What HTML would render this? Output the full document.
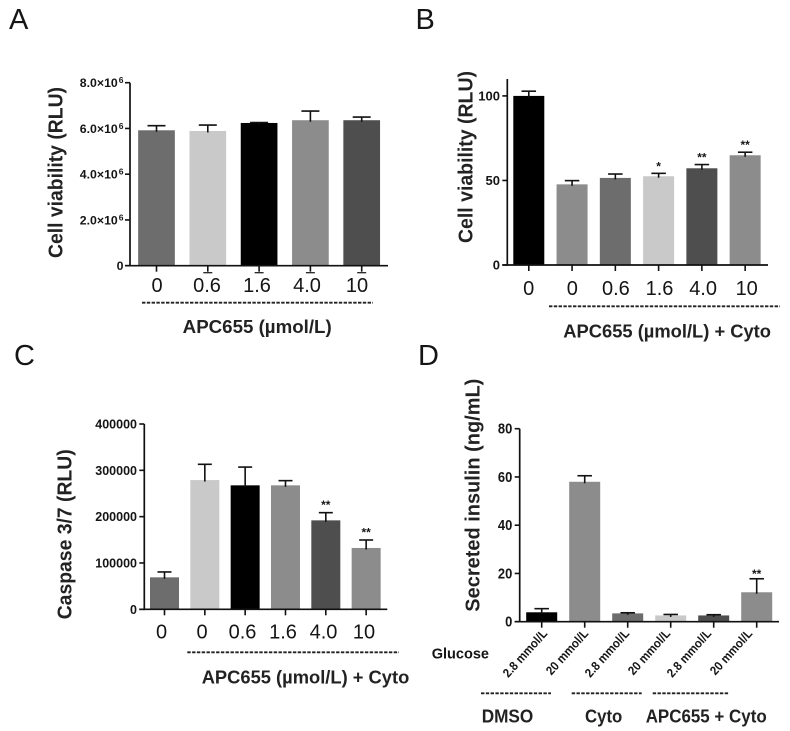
<!DOCTYPE html>
<html>
<head>
<meta charset="utf-8">
<title>APC655 cell viability, caspase and insulin charts</title>
<style>
html,body{margin:0;padding:0;background:#fff;}
#figure{display:block;width:790px;height:731px;filter:blur(0.35px);}
text{font-family:"Liberation Sans",sans-serif;fill:#151515;}
.letter{font-size:29px;}
.ytitle{font-size:20.5px;font-weight:bold;fill:#222;}
.xtitle{font-size:18.5px;font-weight:bold;fill:#222;}
.dash{stroke:#222;stroke-width:1.8;stroke-dasharray:3.4 1.4;fill:none;}
</style>
</head>
<body>
<svg id="figure" xmlns="http://www.w3.org/2000/svg" width="790" height="731" viewBox="0 0 790 731">
  <rect width="790" height="731" fill="#fff"/>

  <g id="panel-a">
    <text class="letter" x="9" y="29">A</text>
    <text class="ytitle" transform="translate(62.3,258) rotate(-90)" textLength="171" lengthAdjust="spacingAndGlyphs">Cell viability (RLU)</text>
    <line class="dash" x1="142" y1="302.7" x2="373" y2="302.7"/>
    <text class="xtitle" x="182.7" y="333" textLength="149" lengthAdjust="spacingAndGlyphs">APC655 (µmol/L)</text>
  </g>

  <g id="panel-b">
    <text class="letter" x="415.5" y="29">B</text>
    <text class="ytitle" transform="translate(472.3,243) rotate(-90)" textLength="172" lengthAdjust="spacingAndGlyphs">Cell viability (RLU)</text>
    <line class="dash" x1="549" y1="306.3" x2="780" y2="306.3"/>
    <text class="xtitle" x="563.3" y="337.3" textLength="207.7" lengthAdjust="spacingAndGlyphs">APC655 (µmol/L) + Cyto</text>
  </g>

  <g id="panel-c">
    <text class="letter" x="14" y="365">C</text>
    <text class="ytitle" transform="translate(71.7,619.3) rotate(-90)" textLength="170" lengthAdjust="spacingAndGlyphs">Caspase 3/7 (RLU)</text>
    <line class="dash" x1="187.3" y1="652.3" x2="399" y2="652.3"/>
    <text class="xtitle" x="201.7" y="683.3" textLength="207.6" lengthAdjust="spacingAndGlyphs">APC655 (µmol/L) + Cyto</text>
  </g>

  <g id="panel-d">
    <text class="letter" x="418" y="365">D</text>
    <text class="ytitle" transform="translate(479.3,611.7) rotate(-90)" textLength="233" lengthAdjust="spacingAndGlyphs">Secreted insulin (ng/mL)</text>
    <text x="431.7" y="658.3" font-size="15" font-weight="bold" textLength="57.3" lengthAdjust="spacingAndGlyphs">Glucose</text>
    <line class="dash" x1="481" y1="693.3" x2="551" y2="693.3"/>
    <line class="dash" x1="571.7" y1="693.3" x2="641.7" y2="693.3"/>
    <line class="dash" x1="652.7" y1="693.3" x2="729.3" y2="693.3"/>
    <text class="xtitle" x="481.7" y="722.7" textLength="51.6" lengthAdjust="spacingAndGlyphs">DMSO</text>
    <text class="xtitle" x="585" y="722.7" textLength="37.3" lengthAdjust="spacingAndGlyphs">Cyto</text>
    <text class="xtitle" x="645.7" y="722.7" textLength="121" lengthAdjust="spacingAndGlyphs">APC655 + Cyto</text>
  </g>
</svg>

<script>
/* Panel A data */
var panelACategories = ["0", "0.6", "1.6", "4.0", "10"];
var panelAValues = [5920000, 5890000, 6240000, 6360000, 6360000];
var panelAErrorTops = [6120000, 6150000, 6260000, 6760000, 6500000];
var panelAStars = ["", "", "", "", ""];
var panelATicks = [0, 2000000, 4000000, 6000000, 8000000];
var panelATickLabels = ["0", "2.0×10", "4.0×10", "6.0×10", "8.0×10"];

/* Panel B data */
var panelBCategories = ["0", "0", "0.6", "1.6", "4.0", "10"];
var panelBValues = [100, 47.7, 51.5, 52.5, 57.2, 64.9];
var panelBErrorTops = [102.8, 49.9, 53.8, 54.2, 59.4, 66.7];
var panelBStars = ["", "", "", "*", "**", "**"];
var panelBTicks = [0, 50, 100];
var panelBTickLabels = ["0", "50", "100"];

/* Panel C data */
var panelCCategories = ["0", "0", "0.6", "1.6", "4.0", "10"];
var panelCValues = [69000, 279000, 267600, 267600, 192000, 132400];
var panelCErrorTops = [80600, 313000, 307000, 277700, 208600, 149600];
var panelCStars = ["", "", "", "", "**", "**"];
var panelCTicks = [0, 100000, 200000, 300000, 400000];
var panelCTickLabels = ["0", "100000", "200000", "300000", "400000"];

/* Panel D data */
var panelDCategories = ["2.8 mmol/L", "20 mmol/L", "2.8 mmol/L", "20 mmol/L", "2.8 mmol/L", "20 mmol/L"];
var panelDValues = [3.9, 58, 3.45, 2.6, 2.6, 12.2];
var panelDErrorTops = [5.4, 60.5, 3.7, 3.0, 2.9, 17.8];
var panelDStars = ["", "", "", "", "", "**"];
var panelDTicks = [0, 20, 40, 60, 80];
var panelDTickLabels = ["0", "20", "40", "60", "80"];

var NS = "http://www.w3.org/2000/svg";
var DARK = "#4e4e4e", MID = "#6d6d6d", LIGHT = "#c9c9c9", BLACK = "#000000", GREY = "#8c8c8c";

function make(parent, tag, attrs, name) {
  var el = document.createElementNS(NS, tag);
  for (var k in attrs) { el.setAttribute(k, attrs[k]); }
  
  
  parent.appendChild(el);
  return el;
}

function drawPanel(cfg) {
  var g = document.getElementById(cfg.id);
  var marks = make(g, "g", {}, cfg.key + "-plot");

  function yOf(v) { return cfg.base - (v / cfg.yMax) * (cfg.base - cfg.top); }
  function xOf(i) { return cfg.firstCenter + i * cfg.step; }
  function labelX(i) { return cfg.labelStart + i * cfg.labelStep; }

  cfg.values.forEach(function (v, i) {
    var cx = xOf(i);
    var yTop = yOf(v);
    var yErr = yOf(cfg.errors[i]);
    make(marks, "rect", {
      x: cx - cfg.barWidth / 2, y: yTop, width: cfg.barWidth, height: cfg.base - yTop, fill: cfg.fills[i]
    }, cfg.key + "-bar-" + (i + 1));
    make(marks, "line", {
      x1: cx, x2: cx, y1: yTop + 1.5, y2: yErr, stroke: "#111", "stroke-width": 1.6
    }, cfg.key + "-error-stem-" + (i + 1));
    make(marks, "line", {
      x1: cx - cfg.capWidth / 2, x2: cx + cfg.capWidth / 2, y1: yErr, y2: yErr, stroke: "#111", "stroke-width": 1.6
    }, cfg.key + "-error-cap-" + (i + 1));
    make(marks, "line", {
      x1: cx, x2: cx, y1: cfg.base, y2: cfg.base + 6, stroke: "#111", "stroke-width": 1.6
    }, cfg.key + "-x-tick-" + (i + 1));
    if (cfg.tickCaps && i > 0) {
      make(marks, "line", {
        x1: cx - 4.5, x2: cx + 4.5, y1: cfg.base + 7, y2: cfg.base + 7, stroke: "#222", "stroke-width": 1.3
      }, cfg.key + "-x-tick-cap-" + (i + 1));
    }
    if (cfg.stars[i]) {
      var s = make(marks, "text", {
        x: cx, y: yErr - cfg.starGap, "text-anchor": "middle", "font-size": 12, "font-weight": "bold"
      }, cfg.key + "-significance-" + (i + 1));
      s.textContent = cfg.stars[i];
    }
    var t;
    if (cfg.rotatedLabels) {
      t = make(marks, "text", {
        transform: "translate(" + labelX(i) + "," + cfg.labelY + ") rotate(-48) scale(0.91,1)",
        "text-anchor": "end", "font-size": 12.5, "font-weight": "bold"
      }, cfg.key + "-x-label-" + (i + 1));
    } else {
      t = make(marks, "text", {
        x: labelX(i), y: cfg.labelY, "text-anchor": "middle", "font-size": 20
      }, cfg.key + "-x-label-" + (i + 1));
    }
    t.textContent = cfg.categories[i];
  });

  cfg.ticks.forEach(function (v, i) {
    var y = yOf(v);
    make(marks, "line", {
      x1: cfg.axisX - cfg.tickLen, x2: cfg.axisX, y1: y, y2: y, stroke: "#111", "stroke-width": 1.6
    }, cfg.key + "-y-tick-" + (i + 1));
    var label = make(marks, "text", {
      x: cfg.tickRight, y: y + cfg.tickDy, "text-anchor": "end",
      "font-size": cfg.tickSize, "font-weight": "bold"
    }, cfg.key + "-y-tick-label-" + (i + 1));
    if (cfg.tickCondense) {
      label.setAttribute("textLength", cfg.tickLabels[i].length * cfg.tickCondense);
      label.setAttribute("lengthAdjust", "spacingAndGlyphs");
    }
    label.textContent = cfg.tickLabels[i];
    if (cfg.tickSuper && v !== 0) {
      var sup = document.createElementNS(NS, "tspan");
      sup.setAttribute("dy", "-4");
      sup.setAttribute("dx", "1");
      sup.setAttribute("font-size", "8.5");
      sup.textContent = cfg.tickSuper;
      label.appendChild(sup);
    }
  });

  make(marks, "line", {
    x1: cfg.axisX, x2: cfg.axisX, y1: cfg.top - (cfg.topExtra || 0), y2: cfg.base + 0.8, stroke: "#111", "stroke-width": 1.7
  }, cfg.key + "-y-axis");
  make(marks, "line", {
    x1: cfg.axisX - cfg.tickLen, x2: cfg.axisRight, y1: cfg.base, y2: cfg.base, stroke: "#111", "stroke-width": 1.7
  }, cfg.key + "-x-axis");
}

drawPanel({
  id: "panel-a", key: "a",
  categories: panelACategories, values: panelAValues, errors: panelAErrorTops, stars: panelAStars,
  ticks: panelATicks, tickLabels: panelATickLabels, tickSuper: "6",
  fills: [MID, LIGHT, BLACK, GREY, DARK],
  yMax: 8000000, base: 265.7, top: 82.7, axisX: 130, axisRight: 388, tickLen: 5,
  firstCenter: 156.5, step: 51.3, barWidth: 36.7, capWidth: 18,
  labelStart: 157, labelStep: 50, labelY: 292, tickRight: 123.5, tickSize: 12.3, tickDy: 4.3, starGap: 3, tickCaps: true
});

drawPanel({
  id: "panel-b", key: "b",
  categories: panelBCategories, values: panelBValues, errors: panelBErrorTops, stars: panelBStars,
  ticks: panelBTicks, tickLabels: panelBTickLabels,
  fills: [BLACK, GREY, MID, LIGHT, DARK, GREY],
  yMax: 110, base: 265, top: 79, axisX: 507.3, axisRight: 768, tickLen: 5,
  firstCenter: 528.8, step: 43.27, barWidth: 31, capWidth: 14.5,
  labelStart: 528.7, labelStep: 43.6, labelY: 295, tickRight: 500, tickSize: 13, tickDy: 4.5, starGap: 3
});

drawPanel({
  id: "panel-c", key: "c",
  categories: panelCCategories, values: panelCValues, errors: panelCErrorTops, stars: panelCStars,
  ticks: panelCTicks, tickLabels: panelCTickLabels,
  fills: [MID, LIGHT, BLACK, GREY, DARK, GREY],
  yMax: 400000, base: 609.3, top: 424, axisX: 144.3, axisRight: 387.3, tickLen: 5,
  firstCenter: 164.5, step: 40.33, barWidth: 29, capWidth: 14,
  labelStart: 161.5, labelStep: 40.5, labelY: 638.7, tickRight: 137, tickSize: 12.5, tickDy: 4.5, starGap: 3.5
});

drawPanel({
  id: "panel-d", key: "d",
  categories: panelDCategories, values: panelDValues, errors: panelDErrorTops, stars: panelDStars,
  ticks: panelDTicks, tickLabels: panelDTickLabels,
  fills: [BLACK, GREY, MID, LIGHT, DARK, GREY],
  yMax: 80, base: 621.7, top: 428.7, axisX: 519.7, axisRight: 779, tickLen: 5,
  firstCenter: 541.7, step: 43, barWidth: 31, capWidth: 14.5,
  rotatedLabels: true,
  labelStart: 548, labelStep: 41, labelY: 634, tickRight: 512.3, tickSize: 15, tickCondense: 7.2, tickDy: 5, starGap: 1
});
</script>
</body>
</html>
